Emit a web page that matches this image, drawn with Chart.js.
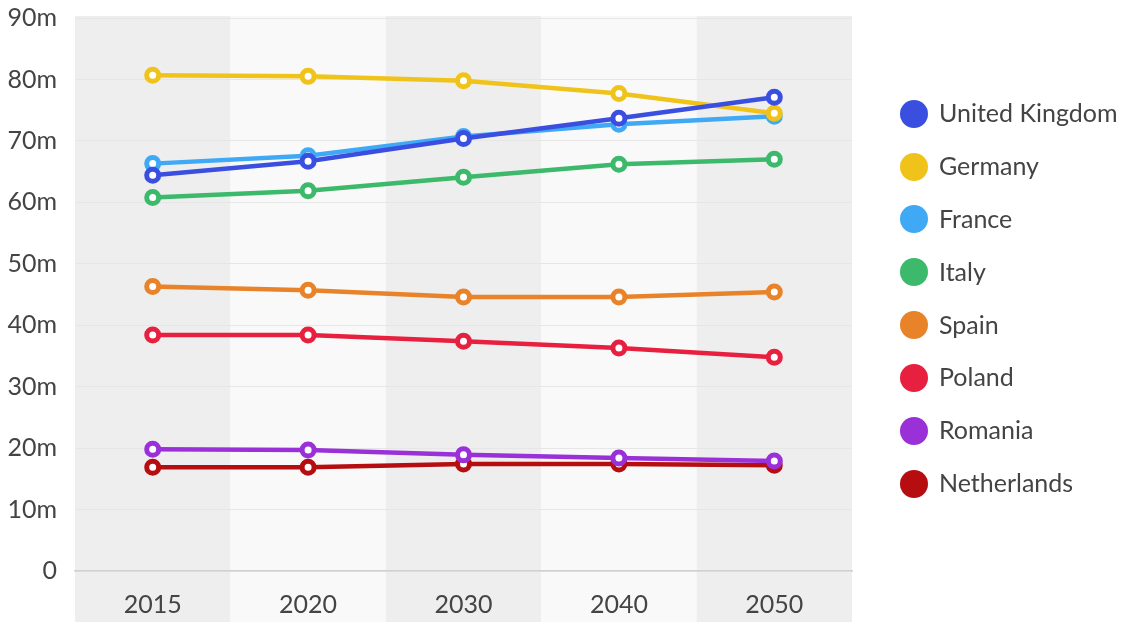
<!DOCTYPE html>
<html>
<head>
<meta charset="utf-8">
<script src="https://cdn.jsdelivr.net/npm/chart.js@4"></script>
<style>
  body { margin: 0; background: #fff; }
  #wrap { position: relative; width: 1125px; height: 622px; }
  #leyenda { position: absolute; left: 900px; top: 86px; font-family: Lato, sans-serif; font-size: 25px; color: #444; }
  #leyenda div { height: 52.9px; line-height: 52.9px; white-space: nowrap; }
  #leyenda span { display: inline-block; width: 28px; height: 28px; border-radius: 50%; vertical-align: middle; margin-right: 11px; position: relative; top: -2px; }
</style>
</head>
<body>
<div id="wrap">
  <canvas id="grafica" width="1125" height="622"></canvas>
  <div id="leyenda"></div>
</div>
<script>
// datos
const years = ['2015', '2020', '2030', '2040', '2050'];
const countries = ['United Kingdom', 'Germany', 'France', 'Italy', 'Spain', 'Poland', 'Romania', 'Netherlands'];
const colores = ['#3a4fe0', '#f0c31a', '#3fa9f5', '#3cb96b', '#e8832a', '#e8203f', '#9a30d8', '#b50d10'];

const uk = [64.4, 66.7, 70.4, 73.7, 77.1];
const germany = [80.7, 80.5, 79.8, 77.7, 74.5];
const france = [66.3, 67.6, 70.7, 72.7, 74.0];
const italy = [60.8, 61.9, 64.1, 66.2, 67.0];
const spain = [46.3, 45.7, 44.6, 44.6, 45.4];
const poland = [38.4, 38.4, 37.4, 36.3, 34.8];
const romania = [19.8, 19.7, 18.9, 18.4, 17.9];
const netherlands = [16.9, 16.9, 17.4, 17.4, 17.2];

const yTicks = [0, 10, 20, 30, 40, 50, 60, 70, 80, 90];

const series = [uk, germany, france, italy, spain, poland, romania, netherlands];

// bandas de fondo
const bandas = {
    id: 'bandas',
    beforeDraw(chart) {
        const ctx = chart.ctx;
        const x = chart.scales.x;
        const area = chart.chartArea;
        const ancho = (area.right - area.left) / years.length;
        ctx.save();
        for (let i = 0; i < years.length; i++) {
            const cx = x.getPixelForValue(i);
            ctx.fillStyle = (i % 2 === 0) ? '#eeeeee' : '#f9f9f9';
            ctx.fillRect(cx - ancho / 2, area.top - 2, ancho, chart.height - area.top + 2);
        }
        ctx.restore();
    }
};

const datasets = series.map(function(d, i) {
    return {
        label: countries[i],
        data: d,
        borderColor: colores[i],
        backgroundColor: '#fff',
        pointBackgroundColor: '#fff',
        pointBorderColor: colores[i],
        pointRadius: 6,
        pointBorderWidth: 5,
        borderWidth: 4.5,
        tension: 0
    };
});

new Chart(document.getElementById('grafica'), {
    type: 'line',
    data: { labels: years, datasets: datasets },
    options: {
        responsive: false,
        animation: false,
        layout: { padding: { top: 18, right: 273, left: 0, bottom: 0 } },
        plugins: { legend: { display: false }, tooltip: { enabled: false } },
        scales: {
            x: {
                offset: true,
                grid: { display: false, drawTicks: false },
                border: { display: true, color: '#d0d0d0', width: 1.5 },
                ticks: { color: '#444', font: { family: 'Lato', size: 25 }, padding: 19 },
                afterFit: function(s) { s.height = 51; s.paddingLeft = 0; s.paddingRight = 0; }
            },
            y: {
                min: 0,
                max: 90,
                afterBuildTicks: function(s) { s.ticks = yTicks.map(v => ({ value: v })); },
                grid: { color: '#e6e6e6', drawTicks: false },
                border: { display: false },
                ticks: {
                    color: '#444',
                    font: { family: 'Lato', size: 25 },
                    padding: 18,
                    callback: v => v === 0 ? '0' : v + 'm'
                },
                afterFit: function(s) { s.width = 75; s.paddingTop = 0; s.paddingBottom = 0; }
            }
        }
    },
    plugins: [bandas]
});

// leyenda
let html = '';
for (let i = 0; i < countries.length; i++) {
    html += `<div><span style="background:${colores[i]}"></span>${countries[i]}</div>`;
}
document.getElementById('leyenda').innerHTML = html;
</script>
</body>
</html>
